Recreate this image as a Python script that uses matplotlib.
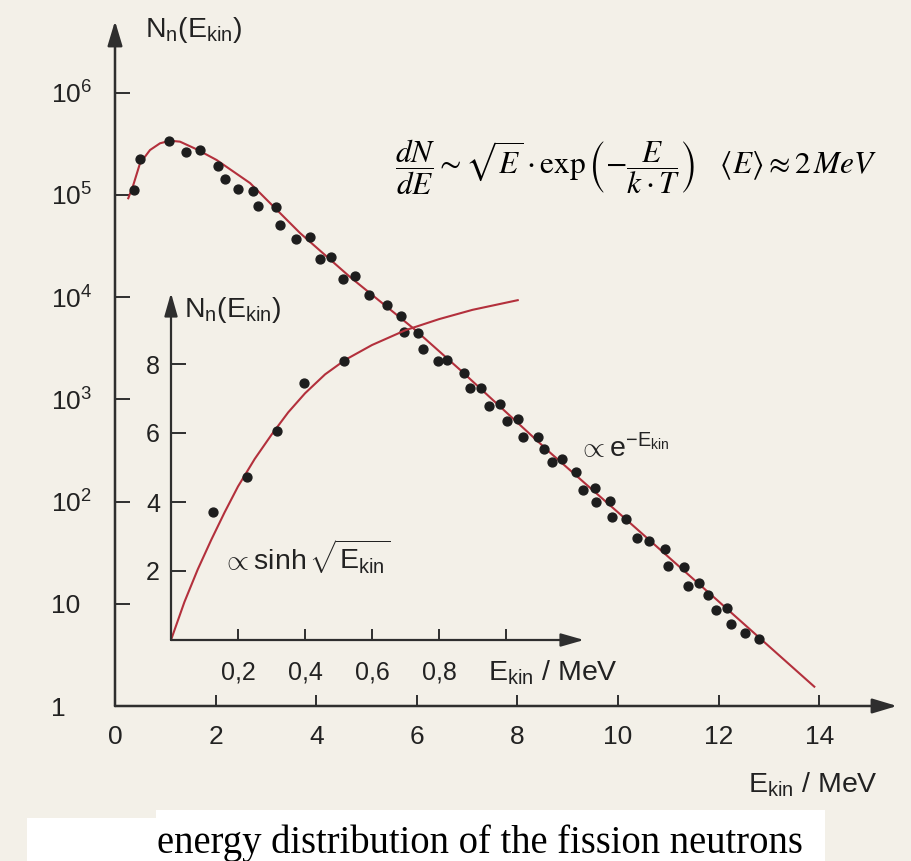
import numpy as np
import matplotlib
matplotlib.use("Agg")
import matplotlib.pyplot as plt
from matplotlib.patches import Rectangle

plt.rcParams["font.family"] = ["Liberation Sans", "DejaVu Sans"]
plt.rcParams["mathtext.fontset"] = "custom"
plt.rcParams["mathtext.rm"] = "Liberation Sans"
plt.rcParams["mathtext.it"] = "Liberation Sans:italic"
plt.rcParams["mathtext.sf"] = "Liberation Sans"

# ---- data ----
# main spectrum: measured points (E in MeV, log10 N)
main_e = [0.384, 0.497, 1.074, 1.412, 1.690, 2.054, 2.187, 2.439, 2.738, 2.837,
          3.201, 3.280, 3.598, 3.877, 4.076, 4.288, 4.527, 4.771, 5.056, 5.414,
          5.686, 5.751, 6.030, 6.117, 6.421, 6.594, 6.944, 7.058, 7.276, 7.435,
          7.654, 7.803, 8.006, 8.117, 8.410, 8.523, 8.682, 8.891, 9.165, 9.300,
          9.537, 9.557, 9.841, 9.875, 10.159, 10.372, 10.622, 10.934, 11.000, 11.318,
          11.398, 11.616, 11.783, 11.942, 12.173, 12.247, 12.525, 12.809]
main_logn = [5.049, 5.349, 5.525, 5.421, 5.440, 5.280, 5.154, 5.059, 5.042, 4.892,
             4.883, 4.706, 4.572, 4.586, 4.377, 4.396, 4.181, 4.207, 4.019, 3.927,
             3.819, 3.657, 3.653, 3.490, 3.376, 3.386, 3.261, 3.109, 3.114, 2.935,
             2.958, 2.789, 2.808, 2.629, 2.635, 2.513, 2.390, 2.415, 2.288, 2.116,
             2.135, 1.996, 2.009, 1.852, 1.830, 1.641, 1.614, 1.533, 1.373, 1.357,
             1.177, 1.201, 1.086, 0.939, 0.956, 0.802, 0.711, 0.653]

# main spectrum: fitted curve
fit_e = [0.264, 0.364, 0.497, 0.696, 0.895, 1.093, 1.292, 1.624, 2.022, 2.684,
         3.678, 4.672, 5.930, 6.859, 8.648, 10.173, 11.962, 13.903]
fit_logn = [4.968, 5.098, 5.310, 5.440, 5.506, 5.531, 5.522, 5.447, 5.342, 5.117,
            4.628, 4.198, 3.696, 3.290, 2.480, 1.820, 1.040, 0.189]

# inset (linear scale, low energies)
inset_e = [0.126, 0.226, 0.315, 0.397, 0.516]
inset_n = [3.70, 4.72, 6.05, 7.44, 8.09]

inset_fit_e = [0, 0.04, 0.08, 0.12, 0.16, 0.20, 0.25, 0.30, 0.35, 0.40,
               0.46, 0.52, 0.60, 0.70, 0.80, 0.90, 1.035]
inset_fit_n = [0, 1.1, 2.05, 2.9, 3.7, 4.45, 5.25, 5.95, 6.6, 7.15,
               7.7, 8.12, 8.55, 8.98, 9.3, 9.57, 9.85]

main_xticks = [0, 2, 4, 6, 8, 10, 12, 14]
main_yticks = [1, 10, 1e2, 1e3, 1e4, 1e5, 1e6]
main_ylabels = ["1", "10", r"$\mathrm{10^2}$", r"$\mathrm{10^3}$", r"$\mathrm{10^4}$",
                r"$\mathrm{10^5}$", r"$\mathrm{10^6}$"]
inset_xticks = [0.2, 0.4, 0.6, 0.8, 1.0]
inset_xlabels = ["0,2", "0,4", "0,6", "0,8", ""]
inset_yticks = [2, 4, 6, 8]

# ---- style ----
bg = "#f3f0e8"
axc = "#2e2e2e"
red = "#b3303c"
dotc = "#1d1d1d"
W, H = 912, 861

fig = plt.figure(figsize=(W / 100, H / 100), dpi=100, facecolor=bg)


def fx(px):
    return px / W


def fy(py):
    return 1 - py / H


def arrow_axes(a, lw=1.8, hl=1.5, hw=0.45):
    style = f"-|>,head_length={hl},head_width={hw}"
    kw = dict(arrowstyle=style, lw=lw, color=axc, shrinkA=0, shrinkB=0,
              mutation_scale=10)
    a.annotate("", xy=(1, 0), xytext=(0, 0), xycoords="axes fraction",
               arrowprops=kw, annotation_clip=False)
    a.annotate("", xy=(0, 1), xytext=(0, 0), xycoords="axes fraction",
               arrowprops=kw, annotation_clip=False)


# main axes: origin at px (115, 706)
ax = fig.add_axes([fx(115), fy(706), fx(897) - fx(115), fy(21) - fy(706)])
ax.patch.set_alpha(0)
ax.set_xlim(0, (897 - 115) / 50.3)
ax.set_yscale("log")
ax.set_ylim(1, 10 ** ((706 - 21) / 102.2))
for s in ax.spines.values():
    s.set_visible(False)
ax.set_xticks(main_xticks)
ax.set_xticklabels([str(t) for t in main_xticks])
ax.set_yticks(main_yticks)
ax.set_yticklabels(main_ylabels)
ax.minorticks_off()
ax.tick_params(axis="x", direction="in", length=8, width=1.4, color=axc,
               labelsize=19, pad=14, labelcolor="#222222")
ax.tick_params(axis="y", direction="in", length=11, width=1.4, color=axc,
               labelsize=19, pad=46, labelcolor="#222222")
for t in ax.get_yticklabels():
    t.set_horizontalalignment("left")
arrow_axes(ax)

ax.plot(fit_e, 10 ** np.array(fit_logn), color=red, lw=1.5, zorder=2)
ax.plot(main_e, 10 ** np.array(main_logn), "o", ms=6.4, color=dotc, zorder=3)

# inset axes: origin at px (171, 640)
ax2 = fig.add_axes([fx(171), fy(640), fx(584) - fx(171), fy(293) - fy(640)])
ax2.patch.set_alpha(0)
ax2.set_xlim(0, (584 - 171) / 335)
ax2.set_ylim(0, (640 - 293) / 34.5)
for s in ax2.spines.values():
    s.set_visible(False)
ax2.set_xticks(inset_xticks)
ax2.set_xticklabels(inset_xlabels)
ax2.set_yticks(inset_yticks)
ax2.set_yticklabels([str(t) for t in inset_yticks])
ax2.tick_params(axis="x", direction="in", length=8, width=1.4, color=axc,
                labelsize=18, pad=15, labelcolor="#222222")
ax2.tick_params(axis="y", direction="in", length=11, width=1.4, color=axc,
                labelsize=18, pad=8, labelcolor="#222222")
arrow_axes(ax2, lw=1.6, hl=1.4, hw=0.4)

ax2.plot(inset_fit_e, inset_fit_n, color=red, lw=1.5, zorder=2)
ax2.plot(inset_e, inset_n, "o", ms=6.4, color=dotc, zorder=3)

# labels
lab = dict(color="#222222", fontsize=20.5, va="center", ha="left")
fig.text(fx(145), fy(30), r"$\mathrm{N_n(E_{kin})}$", **lab)
fig.text(fx(184), fy(310), r"$\mathrm{N_n(E_{kin})}$", **lab)
fig.text(fx(488), fy(673), r"$\mathrm{E_{kin}}$ / MeV", **lab)
fig.text(fx(748), fy(785), r"$\mathrm{E_{kin}}$ / MeV", **lab)
fig.text(fx(222), fy(557), r"$\propto \mathrm{sinh}\,\sqrt{\mathrm{E_{kin}}}$", **lab)
fig.text(fx(578), fy(448), r"$\propto \mathrm{e^{-E_{kin}}}$", **lab)

fig.text(fx(395), fy(167),
         r"$\dfrac{dN}{dE} \sim \sqrt{E}\cdot\exp\left(-\dfrac{E}{k\cdot T}\right)"
         r"\quad\langle E\rangle\approx 2\,MeV$",
         fontsize=22.5, va="center", ha="left", color="black", math_fontfamily="stix")

# white caption strip
fig.patches.append(Rectangle((fx(27), 0), fx(825) - fx(27), fy(818),
                             transform=fig.transFigure, facecolor="white",
                             edgecolor="none", zorder=1))
fig.patches.append(Rectangle((fx(156), 0), fx(825) - fx(156), fy(810),
                             transform=fig.transFigure, facecolor="white",
                             edgecolor="none", zorder=1))
fig.text(fx(480), fy(843), "energy distribution of the fission neutrons",
         family=["Liberation Serif", "DejaVu Serif"], fontsize=27.8,
         ha="center", va="center", color="black")

fig.savefig("out.png", dpi=100, facecolor=bg)
